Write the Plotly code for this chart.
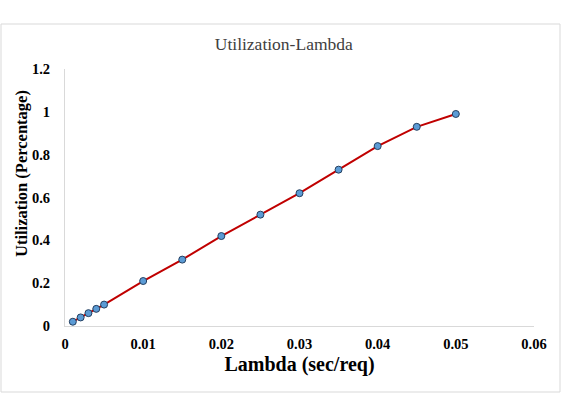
import plotly.graph_objects as go

lam = [0.001, 0.002, 0.003, 0.004, 0.005, 0.01, 0.015, 0.02, 0.025, 0.03, 0.035, 0.04, 0.045, 0.05]
util = [0.02, 0.04, 0.06, 0.08, 0.10, 0.21, 0.31, 0.42, 0.52, 0.62, 0.73, 0.84, 0.93, 0.99]
x_ticks = [0, 0.01, 0.02, 0.03, 0.04, 0.05, 0.06]
x_labels = ["0", "0.01", "0.02", "0.03", "0.04", "0.05", "0.06"]
y_ticks = [0, 0.2, 0.4, 0.6, 0.8, 1, 1.2]
y_labels = ["0", "0.2", "0.4", "0.6", "0.8", "1", "1.2"]

FONT = "Liberation Serif"

fig = go.Figure()
fig.add_trace(go.Scatter(
    x=lam, y=util, mode="lines+markers",
    line=dict(color="#c00000", width=2),
    marker=dict(size=7, color="#5b9bd5", line=dict(color="#243f60", width=1)),
    showlegend=False,
))

fig.update_layout(
    width=571, height=400,
    margin=dict(l=65, r=37, t=69, b=74),
    paper_bgcolor="white", plot_bgcolor="white",
    font=dict(family=FONT, color="#000000"),
    title=dict(text="Utilization-Lambda", font=dict(family=FONT, size=17.5, color="#404040"),
               x=0.497, xref="container", xanchor="center",
               y=1 - 44/400, yref="container", yanchor="middle"),
    xaxis=dict(range=[0, 0.06], tickvals=x_ticks, ticktext=["<b>%s</b>" % t for t in x_labels],
               showgrid=False, zeroline=False, showline=True, linecolor="#d9d9d9", linewidth=1,
               ticks="", ticklabelstandoff=5, tickfont=dict(family=FONT, size=14.5, color="#000000"),
               title=dict(text="<b>Lambda (sec/req)</b>", font=dict(family=FONT, size=20, color="#000000"), standoff=5)),
    yaxis=dict(range=[0, 1.2], tickvals=y_ticks, ticktext=["<b>%s</b>" % t for t in y_labels],
               showgrid=False, zeroline=False, showline=True, linecolor="#d9d9d9", linewidth=1,
               ticks="", ticklabelstandoff=11, tickfont=dict(family=FONT, size=14.5, color="#000000")),
    annotations=[dict(text="<b>Utilization (Percentage)</b>", textangle=-90,
                      xref="paper", yref="paper", x=(21 - 65) / 469, y=(326 - 174) / 257,
                      xanchor="center", yanchor="middle", showarrow=False,
                      font=dict(family=FONT, size=16.5, color="#000000"))],
    shapes=[dict(type="rect", xref="paper", yref="paper",
                 x0=(1 - 65) / 469, x1=(560 - 65) / 469,
                 y0=(326 - 392) / 257, y1=(326 - 24) / 257,
                 line=dict(color="#d9d9d9", width=1), fillcolor="rgba(0,0,0,0)", layer="below")],
)

fig.write_html("out.html")
